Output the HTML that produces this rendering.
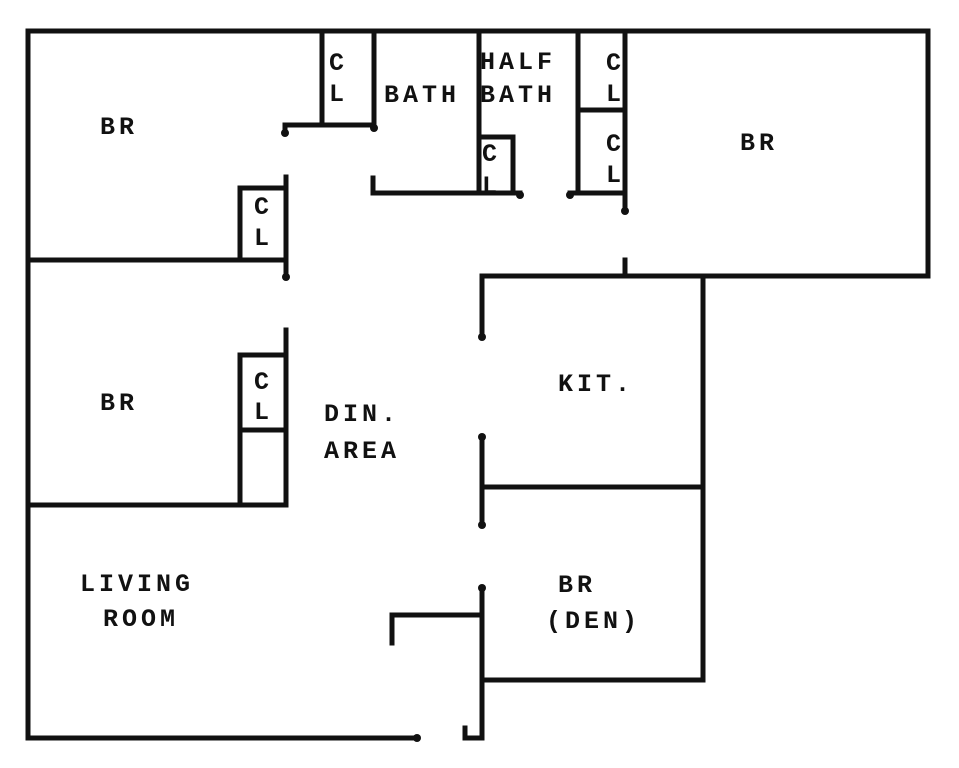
<!DOCTYPE html>
<html><head><style>
body{margin:0;background:#fff;width:959px;height:768px;overflow:hidden}
svg{position:absolute;left:0;top:0}
text{font-family:"Liberation Mono",monospace;font-weight:bold;font-size:25px;letter-spacing:4px;fill:#111}
</style></head><body>
<svg width="959" height="768" viewBox="0 0 959 768">
<g stroke="#111" stroke-width="5" fill="none" stroke-linecap="square">
<path d="M28 31 H928 V276 H482 V337"/>
<path d="M28 31 V738 H417"/>
<path d="M465 728 V738 H482 V588"/>
<path d="M482 437 V525"/>
<path d="M482 487 H703"/>
<path d="M703 276 V680 H482"/>
<path d="M482 615 H392 V643"/>
<path d="M625 260 V276"/>
<path d="M322 31 V125 M374 31 V125 M285 133 V125 H374"/>
<path d="M479 31 V193 M373 178 V193 H520"/>
<path d="M479 137 H513 V193"/>
<path d="M578 31 V193 M625 31 V210 M578 110 H625 M570 193 H625"/>
<path d="M28 260 H286 M240 260 V188 H286 M286 177 V277"/>
<path d="M286 330 V505 M28 505 H286 M240 505 V355 H286 M240 430 H286"/>
</g>
<g fill="#111">
<circle cx="285" cy="133" r="4"/><circle cx="374" cy="128" r="4"/><circle cx="520" cy="195" r="4"/>
<circle cx="570" cy="195" r="4"/><circle cx="625" cy="211" r="4"/><circle cx="286" cy="277" r="4"/>
<circle cx="482" cy="337" r="4"/><circle cx="482" cy="437" r="4"/><circle cx="482" cy="525" r="4"/>
<circle cx="482" cy="588" r="4"/><circle cx="417" cy="738" r="4"/>
</g>
<text x="100" y="134">BR</text>
<text x="100" y="410">BR</text>
<text x="740" y="150">BR</text>
<text x="329" y="70">C</text><text x="329" y="101">L</text>
<text x="606" y="70">C</text><text x="606" y="101">L</text>
<text x="606" y="151">C</text><text x="606" y="182">L</text>
<text x="482" y="161">C</text><text x="482" y="193">L</text>
<text x="254" y="214">C</text><text x="254" y="245">L</text>
<text x="254" y="389">C</text><text x="254" y="419">L</text>
<text x="384" y="102">BATH</text>
<text x="480" y="69">HALF</text>
<text x="480" y="102">BATH</text>
<text x="558" y="391">KIT.</text>
<text x="324" y="421">DIN.</text>
<text x="324" y="458">AREA</text>
<text x="80" y="591">LIVING</text>
<text x="103" y="626">ROOM</text>
<text x="558" y="592">BR</text>
<text x="546" y="628">(DEN)</text>
</svg>
</body></html>
